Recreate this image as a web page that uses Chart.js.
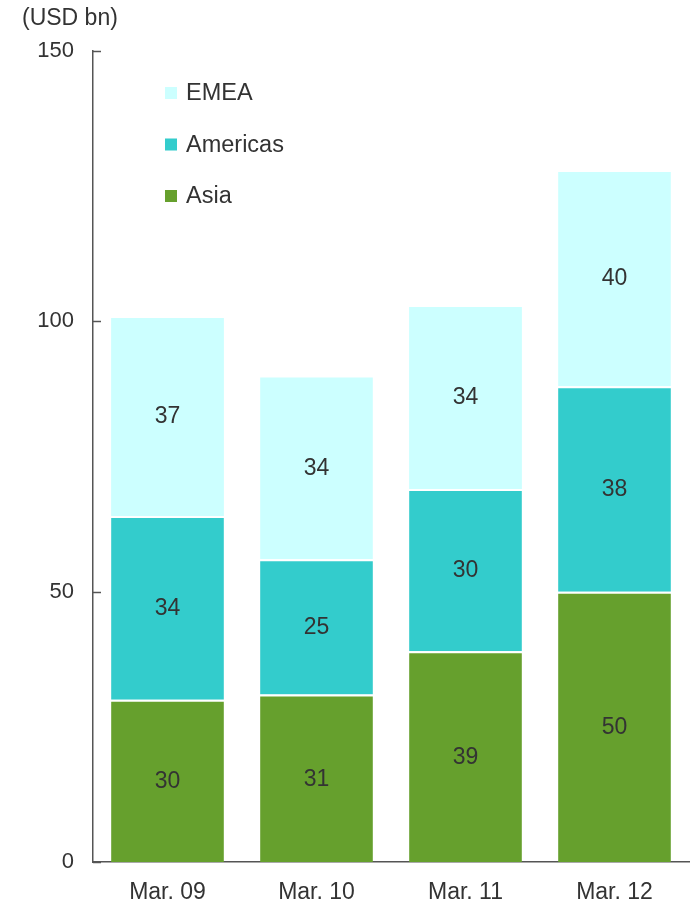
<!DOCTYPE html>
<html>
<head>
<meta charset="utf-8">
<script src="https://cdn.jsdelivr.net/npm/chart.js@4"></script>
<style>
  html, body { margin: 0; padding: 0; background: #fff; }
  #wrap { position: relative; width: 694px; height: 907px; }
</style>
</head>
<body>
<div id="wrap"><canvas id="c" width="694" height="907"></canvas></div>
<script>
// Revenue by region, fiscal years ending March (USD bn)
const categories = ['Mar. 09', 'Mar. 10', 'Mar. 11', 'Mar. 12'];
const asia = [30, 31, 39, 50];
const americas = [34, 25, 30, 38];
const emea = [37, 34, 34, 40];
const yTicks = [0, 50, 100, 150];
const unitLabel = '(USD bn)';

const FONT = '"Liberation Sans", Arial, sans-serif';
const TEXT = '#333333';
const AXIS = '#555555';

const colors = { asia: '#66A02D', americas: '#33CCCC', emea: '#CCFFFF' };

// Value labels centred in each stacked segment
const segmentLabels = {
  id: 'segmentLabels',
  afterDatasetsDraw(chart) {
    const ctx = chart.ctx;
    ctx.save();
    ctx.font = '23px ' + FONT;
    ctx.fillStyle = TEXT;
    ctx.textAlign = 'center';
    ctx.textBaseline = 'middle';
    chart.data.datasets.forEach((ds, i) => {
      chart.getDatasetMeta(i).data.forEach((bar, j) => {
        const p = bar.getProps(['x', 'y', 'base'], true);
        ctx.fillText(String(ds.data[j]), p.x, (p.y + p.base) / 2 + 1);
      });
    });
    ctx.restore();
  }
};

// Inward tick marks on the value axis, unit caption and the legend block
const extras = {
  id: 'extras',
  afterDraw(chart) {
    const ctx = chart.ctx;
    const y = chart.scales.y;
    const area = chart.chartArea;
    ctx.save();
    ctx.strokeStyle = AXIS;
    ctx.lineWidth = 1.5;
    yTicks.forEach(v => {
      const py = Math.round(y.getPixelForValue(v)) + 0.5;
      ctx.beginPath();
      ctx.moveTo(area.left, py);
      ctx.lineTo(area.left + 8, py);
      ctx.stroke();
    });

    ctx.font = '23px ' + FONT;
    ctx.fillStyle = TEXT;
    ctx.textAlign = 'left';
    ctx.textBaseline = 'middle';
    ctx.fillText(unitLabel, 22, 19);

    // legend: datasets listed top-down in reverse stacking order
    const items = chart.data.datasets.slice().reverse();
    items.forEach((ds, k) => {
      const cy = 93 + k * 51.5;
      ctx.fillStyle = ds.backgroundColor;
      ctx.fillRect(165, cy - 6, 12, 12);
      ctx.fillStyle = TEXT;
      ctx.font = '23.5px ' + FONT;
      ctx.fillText(ds.label, 186, cy + 1);
    });
    ctx.restore();
  }
};

new Chart(document.getElementById('c'), {
  type: 'bar',
  data: {
    labels: categories,
    datasets: [
      { label: 'Asia', data: asia, backgroundColor: colors.asia },
      { label: 'Americas', data: americas, backgroundColor: colors.americas },
      { label: 'EMEA', data: emea, backgroundColor: colors.emea }
    ].map(d => Object.assign(d, {
      borderColor: '#ffffff',
      borderWidth: { top: 2, left: 0, right: 0, bottom: 0 },
      borderSkipped: false,
      barPercentage: 0.757,
      categoryPercentage: 1.0
    }))
  },
  options: {
    responsive: false,
    animation: false,
    devicePixelRatio: 1,
    layout: { padding: { top: 51, right: 5, left: 0, bottom: 0 } },
    plugins: {
      legend: { display: false },
      tooltip: { enabled: false }
    },
    scales: {
      x: {
        stacked: true,
        grid: { display: false, drawTicks: false },
        border: { display: true, color: AXIS, width: 1.5 },
        ticks: { color: TEXT, font: { family: FONT, size: 23 }, padding: 17, maxRotation: 0 },
        afterFit(s) { s.height = 45; }
      },
      y: {
        stacked: true,
        min: 0,
        max: 150,
        afterBuildTicks(s) { s.ticks = yTicks.map(v => ({ value: v })); },
        grid: { display: false, drawTicks: false },
        border: { display: true, color: AXIS, width: 1.5 },
        ticks: { color: TEXT, font: { family: FONT, size: 22 }, padding: 19 },
        afterFit(s) { s.width = 93; }
      }
    }
  },
  plugins: [segmentLabels, extras]
});
</script>
</body>
</html>
